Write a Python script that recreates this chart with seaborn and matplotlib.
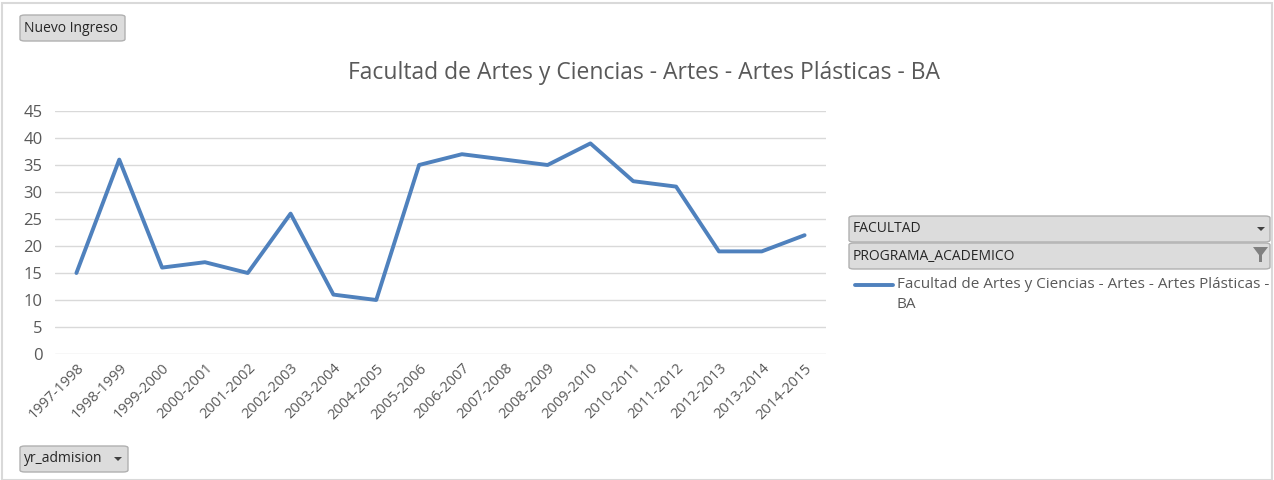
import pandas as pd
import seaborn as sns
import matplotlib.pyplot as plt
from matplotlib.patches import FancyBboxPatch, Rectangle, Polygon

years = ['1997-1998', '1998-1999', '1999-2000', '2000-2001', '2001-2002', '2002-2003',
         '2003-2004', '2004-2005', '2005-2006', '2006-2007', '2007-2008', '2008-2009',
         '2009-2010', '2010-2011', '2011-2012', '2012-2013', '2013-2014', '2014-2015']
ingreso = [15, 36, 16, 17, 15, 26, 11, 10, 35, 37, 36, 35, 39, 32, 31, 19, 19, 22]
yticks = [0, 5, 10, 15, 20, 25, 30, 35, 40, 45]
serie = 'Facultad de Artes y Ciencias - Artes - Artes Plásticas - BA'

df = pd.DataFrame({'yr_admision': years, 'n': ingreso})
df['pos'] = range(len(df))

sns.set_style('white')
plt.rcParams['font.family'] = ['Open Sans', 'DejaVu Sans']

W, H = 1274, 480
fig = plt.figure(figsize=(12.74, 4.8), dpi=100)
ax = fig.add_axes([55 / W, 1 - 354 / H, (826 - 55) / W, (354 - 111) / H])

line_col = '#4f81bd'
grey = '#595959'
sns.lineplot(data=df, x='pos', y='n', color=line_col, linewidth=2.8, ax=ax, sort=False)

ax.set_xlim(-0.5, len(years) - 0.5)
ax.set_ylim(0, 45)
ax.set_yticks(yticks)
ax.set_xticks(df['pos'])
ax.set_xticklabels(years, rotation=45, ha='right', rotation_mode='anchor', fontsize=10.5, color=grey)
ax.tick_params(axis='y', labelsize=12, labelcolor=grey, length=0, pad=9)
ax.tick_params(axis='x', length=0, pad=5)
ax.grid(axis='y', color='#d9d9d9', linewidth=1)
ax.set_axisbelow(True)
for s in ax.spines.values():
    s.set_visible(False)
ax.set_xlabel('')
ax.set_ylabel('')

fig.text(644 / W, 1 - 73 / H, serie, ha='center', va='center', fontsize=16.5, color=grey)

# outer frame
fig.patches.append(Rectangle((2 / W, 0), (W - 4) / W, (H - 3) / H, transform=fig.transFigure,
                             fill=False, edgecolor='#d9d9d9', linewidth=1.5))


def boton(x0, y0, x1, y1, texto, fs=10):
    fig.patches.append(FancyBboxPatch((x0 / W, 1 - y1 / H), (x1 - x0) / W, (y1 - y0) / H,
                                      boxstyle='round,pad=0,rounding_size=0.004',
                                      transform=fig.transFigure, facecolor='#dcdcdc',
                                      edgecolor='#b0b0b0', linewidth=1))
    fig.text((x0 + 4) / W, 1 - (y0 + y1) / 2 / H, texto, ha='left', va='center',
             fontsize=fs, color='#262626')


def flecha(xc, yc):
    fig.patches.append(Polygon([((xc - 4) / W, 1 - (yc - 2) / H), ((xc + 4) / W, 1 - (yc - 2) / H),
                                (xc / W, 1 - (yc + 2) / H)], closed=True, transform=fig.transFigure,
                               facecolor='#404040', edgecolor='none'))


boton(20, 15, 125, 41, 'Nuevo Ingreso')
boton(20, 446, 128, 472, 'yr_admision')
flecha(118, 459)
boton(849, 216, 1270, 242, 'FACULTAD')
flecha(1261, 229)
boton(849, 243, 1270, 269, 'PROGRAMA_ACADEMICO')
# filter icon
fig.patches.append(Polygon([(1253 / W, 1 - 247 / H), (1268 / W, 1 - 247 / H), (1262 / W, 1 - 255 / H),
                            (1262 / W, 1 - 262 / H), (1259 / W, 1 - 262 / H), (1259 / W, 1 - 255 / H)],
                           closed=True, transform=fig.transFigure, facecolor='#808080', edgecolor='none'))

# legend
fig.lines.append(plt.Line2D([855 / W, 893 / W], [1 - 285 / H, 1 - 285 / H], transform=fig.transFigure,
                            color=line_col, linewidth=2.8))
fig.text(897 / W, 1 - 285 / H, 'Facultad de Artes y Ciencias - Artes - Artes Plásticas -',
         ha='left', va='center', fontsize=11, color=grey)
fig.text(897 / W, 1 - 305 / H, 'BA', ha='left', va='center', fontsize=11, color=grey)

fig.savefig('out.png', dpi=100, facecolor='white')
